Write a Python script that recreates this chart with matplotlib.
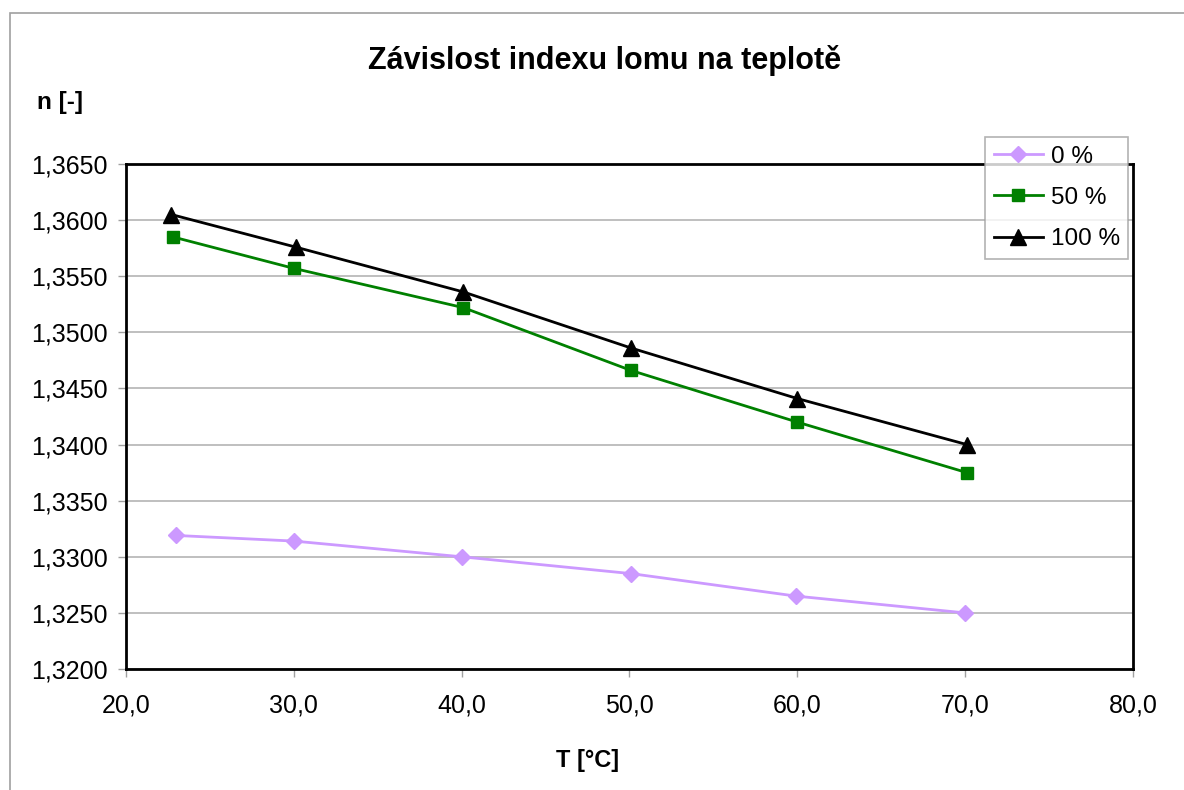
import matplotlib
matplotlib.use("Agg")
import matplotlib.pyplot as plt
from matplotlib.patches import Rectangle
from matplotlib.ticker import FuncFormatter, MultipleLocator

plt.rcParams['font.family'] = ['Liberation Sans', 'DejaVu Sans']

title = "Závislost indexu lomu na teplotě"
xlabel = "T [°C]"
ylabel = "n [-]"

series_names = ["0 %", "50 %", "100 %"]
x_0 = [23.0, 30.0, 40.0, 50.1, 59.9, 70.0]
y_0 = [1.3319, 1.3314, 1.3300, 1.3285, 1.3265, 1.3250]
x_50 = [22.8, 30.0, 40.1, 50.1, 60.0, 70.1]
y_50 = [1.3585, 1.3557, 1.3522, 1.3466, 1.3420, 1.3375]
x_100 = [22.7, 30.1, 40.1, 50.1, 60.0, 70.1]
y_100 = [1.3605, 1.3576, 1.3536, 1.3486, 1.3441, 1.3400]

W, H = 1184, 790
fig = plt.figure(figsize=(W / 100, H / 100), dpi=100)
fig.patch.set_facecolor('white')

# outer chart-area border
fig.patches.append(Rectangle((10 / W, -0.01), 1.1, 1 - 13 / H + 0.01,
                             transform=fig.transFigure, fill=False,
                             edgecolor='#a0a0a0', linewidth=1.2))

left, right, top, bottom = 126, 1133, 164, 669
ax = fig.add_axes([left / W, 1 - bottom / H, (right - left) / W, (bottom - top) / H])

ax.plot(x_0, y_0, color='#cc99ff', linewidth=2, marker='D', markersize=8.5,
        label=series_names[0], zorder=3)
ax.plot(x_50, y_50, color='#008000', linewidth=2, marker='s', markersize=8.5,
        label=series_names[1], zorder=3)
ax.plot(x_100, y_100, color='black', linewidth=2, marker='^', markersize=11,
        label=series_names[2], zorder=3)

ax.set_xlim(20, 80)
ax.set_ylim(1.32, 1.365)
ax.xaxis.set_major_locator(MultipleLocator(10))
ax.yaxis.set_major_locator(MultipleLocator(0.005))
ax.xaxis.set_major_formatter(FuncFormatter(lambda v, p: f"{v:.1f}".replace('.', ',')))
ax.yaxis.set_major_formatter(FuncFormatter(lambda v, p: f"{v:.4f}".replace('.', ',')))

ax.grid(axis='y', color='#b4b4b4', linewidth=1.2)
ax.set_axisbelow(True)
for s in ax.spines.values():
    s.set_color('black')
    s.set_linewidth(2)
ax.tick_params(axis='both', direction='out', length=6, width=1, color='#a0a0a0',
               labelsize=18, pad=7)
ax.tick_params(axis='x', pad=12)

fig.text(605 / W, 1 - 60 / H, title, ha='center', va='center',
         fontsize=22, fontweight='bold')
fig.text(37 / W, 1 - 103 / H, ylabel, ha='left', va='center',
         fontsize=17.5, fontweight='bold')
fig.text(588 / W, 1 - 760 / H, xlabel, ha='center', va='center',
         fontsize=17, fontweight='bold')

leg = fig.legend(loc='upper left', bbox_to_anchor=(985 / W, 1 - 137 / H),
                 frameon=True, fancybox=False, fontsize=17.5, handlelength=2.05,
                 borderpad=0.35, labelspacing=0.8, handletextpad=0.3,
                 borderaxespad=0)
leg.get_frame().set_edgecolor('#a0a0a0')
leg.get_frame().set_linewidth(1.2)

fig.savefig('out.png', dpi=100)
